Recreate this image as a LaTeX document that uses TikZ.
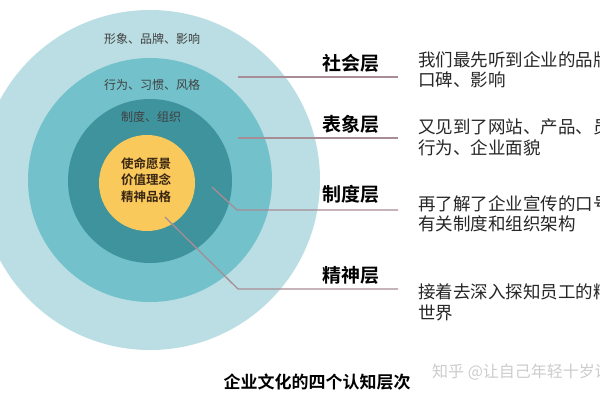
\documentclass[tikz,border=0pt]{standalone}
\usepackage{fontspec}
\setmainfont{Noto Sans CJK SC}
\newfontfamily\cjkb{Noto Sans CJK SC Bold}
\begin{document}
\begin{tikzpicture}[x=1pt,y=-1pt,
  ringtext/.style={font=\fontsize{12}{14}\selectfont, text=black!75},
  layerlabel/.style={font=\cjkb\fontsize{19}{21}\selectfont, text=black},
  desc/.style={font=\fontsize{17.5}{20.5}\selectfont, text=black!85, anchor=north west, align=left, inner sep=0pt},
  leader/.style={draw=lead, line width=1.3pt}]
\definecolor{c1}{HTML}{BADEE3}
\definecolor{c2}{HTML}{72C1CB}
\definecolor{c3}{HTML}{3E939D}
\definecolor{cy}{HTML}{FAC95C}
\definecolor{lead}{HTML}{A88C96}
\useasboundingbox (0,0) rectangle (600,400);
\clip (0,0) rectangle (600,400);
\fill[white] (0,0) rectangle (600,400);
% rings
\fill[c1] (150,180) circle (170);
\fill[c2] (150,180) circle (122);
\fill[c3] (150,181) circle (82);
\fill[cy] (147,183) circle (48);
% ring texts
\node[ringtext] (t1) at (152,39) {形象、品牌、影响};
\node[ringtext] (t2) at (152,85) {行为、习惯、风格};
\node[ringtext] (t3) at (151,117) {制度、组织};
\node[font=\cjkb\fontsize{12.5}{16.5}\selectfont, text=black!70!brown, align=center] (t4) at (146,180) {使命愿景\\价值理念\\精神品格};
% layer labels
\node[layerlabel] (l1) at (351,63) {社会层};
\node[layerlabel] (l2) at (351,124) {表象层};
\node[layerlabel] (l3) at (351,194) {制度层};
\node[layerlabel] (l4) at (351,275) {精神层};
% leader lines
\coordinate (a1) at (238,77);  \coordinate (b1) at (398,77);
\coordinate (a2) at (238,138); \coordinate (b2) at (398,138);
\coordinate (a3) at (212,187); \coordinate (k3) at (237,210); \coordinate (b3) at (398,210);
\coordinate (a4) at (165,217); \coordinate (k4) at (238,289); \coordinate (b4) at (398,289);
\draw[leader] (a1) -- (b1);
\draw[leader] (a2) -- (b2);
\draw[leader] (a3) -- (k3) -- (b3);
\draw[leader] (a4) -- (k4) -- (b4);
% descriptions
\node[desc] (d1) at (418,51) {我们最先听到企业的品牌、\\口碑、影响};
\node[desc] (d2) at (418,119) {又见到了网站、产品、员工\\行为、企业面貌};
\node[desc] (d3) at (418,195) {再了解了企业宣传的口号、\\有关制度和组织架构};
\node[desc] (d4) at (418,284) {接着去深入探知员工的精神\\世界};
% title
\node[font=\cjkb\fontsize{17}{19}\selectfont, text=black] (title) at (317,382) {企业文化的四个认知层次};
% watermark
\node[font=\fontsize{16}{18}\selectfont, text=black!20, anchor=west, inner sep=0pt] (wm) at (432,372) {知乎 @让自己年轻十岁说};
\end{tikzpicture}
\end{document}
